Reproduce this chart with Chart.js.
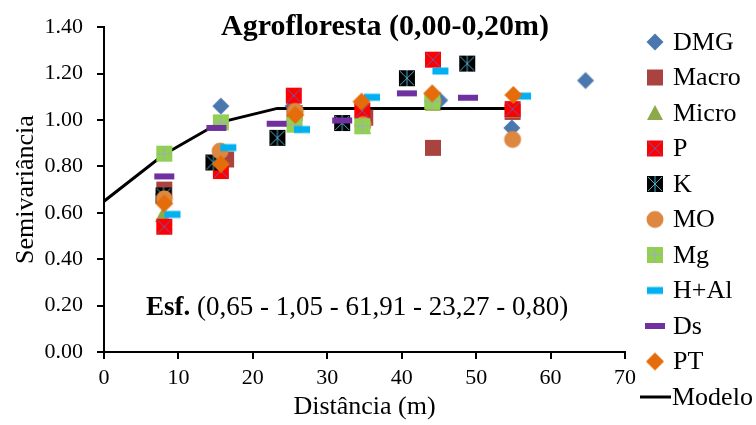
<!DOCTYPE html>
<html>
<head>
<meta charset="utf-8">
<script src="https://cdn.jsdelivr.net/npm/chart.js@4.4.0/dist/chart.umd.min.js"></script>
<style>
  html, body { margin: 0; padding: 0; background: #fff; }
</style>
</head>
<body>
<canvas id="myChart" width="756" height="425"></canvas>
<script>
// values
const seriesNames = ['DMG', 'Macro', 'Micro', 'P', 'K', 'MO', 'Mg', 'H+Al', 'Ds', 'PT']

const dmgX = [8.0, 15.7, 25.4, 34.8, 45.1, 54.8, 64.7]
const dmgY = [0.68, 1.06, 1.06, 1.01, 1.085, 0.966, 1.17]
const macroX = [8.1, 16.4, 25.6, 35.1, 44.2, 54.9]
const macroY = [0.70, 0.83, 1.03, 1.01, 0.88, 1.035]
const microX = [7.9, 15.6, 25.5, 34.8, 44.2, 54.9]
const microY = [0.59, 0.82, 1.00, 0.97, 1.07, 1.04]
const pX = [8.1, 15.7, 25.5, 34.7, 44.2, 54.9]
const pY = [0.54, 0.78, 1.105, 1.04, 1.26, 1.047]
const kX = [8.0, 14.7, 23.3, 32.0, 40.7, 48.8]
const kY = [0.675, 0.817, 0.923, 0.987, 1.18, 1.243]
const moX = [8.1, 15.6, 25.7, 34.8, 44.2, 54.9]
const moY = [0.66, 0.866, 1.037, 0.98, 1.08, 0.916]
const mgX = [8.1, 15.7, 25.6, 34.7, 44.1]
const mgY = [0.855, 0.99, 0.98, 0.973, 1.08]
const halX = [9.2, 16.7, 26.6, 36.0, 45.2, 56.3]
const halY = [0.593, 0.881, 0.959, 1.098, 1.211, 1.103]
const dsX = [8.1, 15.1, 23.2, 32.0, 40.7, 48.9]
const dsY = [0.757, 0.966, 0.984, 0.998, 1.115, 1.096]
const ptX = [8.1, 15.7, 25.7, 34.6, 44.1, 55.0]
const ptY = [0.64, 0.81, 1.022, 1.079, 1.115, 1.108]

// spherical model line
const modeloX = [0, 8, 15.6, 23.27, 54.5]
const modeloY = [0.65, 0.85, 0.99, 1.05, 1.05]

const xTicks = [0, 10, 20, 30, 40, 50, 60, 70]
const yTicks = [0, 0.2, 0.4, 0.6, 0.8, 1.0, 1.2, 1.4]

const seriesX = [dmgX, macroX, microX, pX, kX, moX, mgX, halX, dsX, ptX]
const seriesY = [dmgY, macroY, microY, pY, kY, moY, mgY, halY, dsY, ptY]

const serif = "'Liberation Serif', 'Times New Roman', serif"

// draws each marker once into a small canvas, used as pointStyle
function makeMarker(name) {
    let c = document.createElement('canvas')
    c.width = 24; c.height = 24
    let g = c.getContext('2d')
    let m = 12
    if (name === 'DMG' || name === 'PT') {
        let r = name === 'DMG' ? 8.5 : 9
        g.fillStyle = name === 'DMG' ? '#4A78AE' : '#E46C0A'
        g.beginPath()
        g.moveTo(m, m - r); g.lineTo(m + r, m); g.lineTo(m, m + r); g.lineTo(m - r, m)
        g.closePath(); g.fill()
    } else if (name === 'Macro') {
        g.fillStyle = '#A8433F'
        g.fillRect(m - 8, m - 8, 16, 16)
    } else if (name === 'Micro') {
        g.fillStyle = '#8CAA4C'
        g.beginPath()
        g.moveTo(m, m - 8); g.lineTo(m + 8, m + 7); g.lineTo(m - 8, m + 7)
        g.closePath(); g.fill()
    } else if (name === 'P' || name === 'K' || name === 'Mg') {
        g.fillStyle = name === 'P' ? '#FF0000' : (name === 'K' ? '#000000' : '#92D050')
        g.fillRect(m - 8, m - 8, 16, 16)
        g.lineWidth = 1
        g.strokeStyle = name === 'P' ? '#6A5AB8' : (name === 'K' ? '#4BACC6' : '#9FAAC4')
        g.beginPath()
        if (name === 'P' || name === 'K') {
            g.moveTo(m - 7, m - 7); g.lineTo(m + 7, m + 7)
            g.moveTo(m + 7, m - 7); g.lineTo(m - 7, m + 7)
        }
        if (name === 'K') {
            g.moveTo(m, m - 8); g.lineTo(m, m + 8)
        }
        if (name === 'Mg') {
            g.moveTo(m, m - 8); g.lineTo(m, m + 8)
            g.moveTo(m - 8, m); g.lineTo(m + 8, m)
        }
        g.stroke()
    } else if (name === 'MO') {
        g.fillStyle = '#DE8741'
        g.beginPath(); g.arc(m, m, 8.5, 0, Math.PI * 2); g.fill()
    } else if (name === 'H+Al') {
        g.fillStyle = '#00B0F0'
        g.fillRect(m - 8, m - 3.5, 16, 7)
    } else if (name === 'Ds') {
        g.fillStyle = '#7030A0'
        g.fillRect(m - 10, m - 3, 20, 6)
    }
    return c
}

const markers = seriesNames.map(n => makeMarker(n))

let datasets = seriesNames.map((name, i) => ({
    label: name,
    data: seriesX[i].map((x, j) => ({ x: x, y: seriesY[i][j] })),
    pointStyle: markers[i],
    pointRadius: 9,
    showLine: false,
    order: seriesNames.length - i
}))
datasets.push({
    label: 'Modelo',
    data: modeloX.map((x, j) => ({ x: x, y: modeloY[j] })),
    showLine: true,
    borderColor: '#000',
    borderWidth: 3,
    pointRadius: 0,
    tension: 0,
    order: 20
})

// title, equation text and the legend at the right
const extras = {
    id: 'extras',
    afterDraw(chart) {
        let ctx = chart.ctx
        ctx.save()
        ctx.fillStyle = '#000'
        ctx.textBaseline = 'alphabetic'

        ctx.font = 'bold 30px ' + serif
        ctx.textAlign = 'center'
        ctx.fillText('Agrofloresta (0,00-0,20m)', 385, 35)

        ctx.textAlign = 'left'
        ctx.font = 'bold 27px ' + serif
        let x0 = 146
        ctx.fillText('Esf.', x0, 315)
        let w = ctx.measureText('Esf. ').width
        ctx.font = '27px ' + serif
        ctx.fillText('(0,65 - 1,05 - 61,91 - 23,27 - 0,80)', x0 + w, 315)

        ctx.font = '26px ' + serif
        ctx.textBaseline = 'middle'
        seriesNames.forEach((name, i) => {
            let y = 42 + i * 35.5
            ctx.drawImage(markers[i], 655 - 12, y - 12)
            ctx.fillText(name, 673, y + 1)
        })
        let ym = 42 + 10 * 35.5
        ctx.strokeStyle = '#000'
        ctx.lineWidth = 3
        ctx.beginPath(); ctx.moveTo(640, ym); ctx.lineTo(671, ym); ctx.stroke()
        ctx.fillText('Modelo', 672, ym + 1)
        ctx.restore()
    }
}

let ctx = document.getElementById('myChart').getContext('2d')
let chart = new Chart(ctx, {
    type: 'scatter',
    data: { datasets: datasets },
    plugins: [extras],
    options: {
        responsive: false,
        animation: false,
        devicePixelRatio: 1,
        layout: { padding: { top: 23, right: 131, left: 0, bottom: 0 } },
        plugins: { legend: { display: false }, tooltip: { enabled: false } },
        scales: {
            x: {
                type: 'linear', min: 0, max: 70,
                afterBuildTicks: s => { s.ticks = xTicks.map(v => ({ value: v })) },
                ticks: { color: '#000', font: { family: serif, size: 22 }, padding: 6, maxRotation: 0 },
                grid: { drawOnChartArea: false, tickLength: 7, color: '#000', lineWidth: 2 },
                border: { color: '#000', width: 2 },
                title: { display: true, text: 'Distância (m)', color: '#000', font: { family: serif, size: 26 }, padding: { top: 0, bottom: 2 } },
                afterFit: s => { s.height = 73 }
            },
            y: {
                type: 'linear', min: 0, max: 1.4,
                afterBuildTicks: s => { s.ticks = yTicks.map(v => ({ value: v })) },
                ticks: { color: '#000', font: { family: serif, size: 22 }, padding: 14, callback: v => v.toFixed(2) },
                grid: { drawOnChartArea: false, tickLength: 7, color: '#000', lineWidth: 2 },
                border: { color: '#000', width: 2 },
                title: { display: true, text: 'Semivariância', color: '#000', font: { family: serif, size: 26 }, padding: { top: 11, bottom: 0 } },
                afterFit: s => { s.width = 104 }
            }
        }
    }
})
</script>
</body>
</html>
